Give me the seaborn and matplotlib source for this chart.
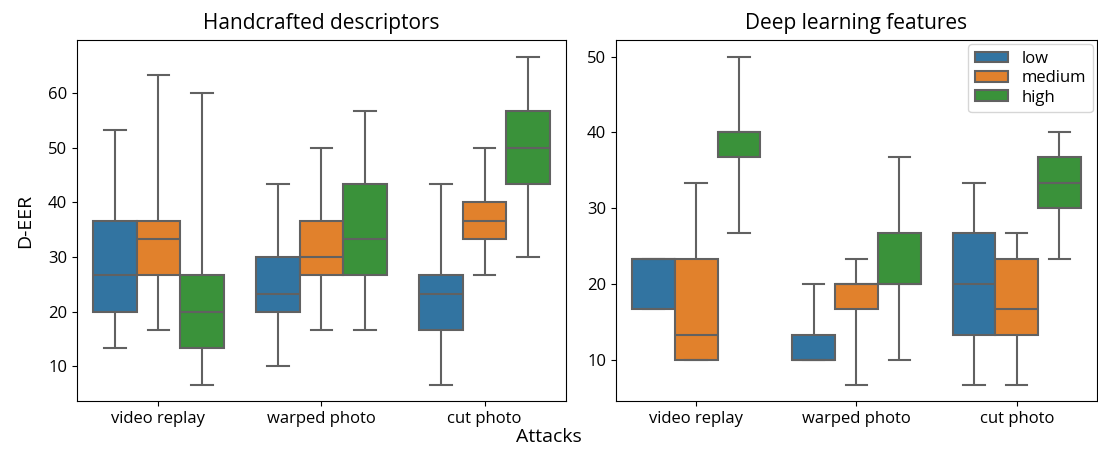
import pandas as pd
import matplotlib.pyplot as plt
import seaborn as sns

# Categories
attacks = ["video replay", "warped photo", "cut photo"]
levels = ["low", "medium", "high"]

# Five values per box (min, q1, median, q3, max), D-EER in %
# Handcrafted descriptors
hand_low = [[13.3, 20.0, 26.7, 36.7, 53.3],
            [10.0, 20.0, 23.3, 30.0, 43.3],
            [6.7, 16.7, 23.3, 26.7, 43.3]]
hand_medium = [[16.7, 26.7, 33.3, 36.7, 63.3],
               [16.7, 26.7, 30.0, 36.7, 50.0],
               [26.7, 33.3, 36.7, 40.0, 50.0]]
hand_high = [[6.7, 13.3, 20.0, 26.7, 60.0],
             [16.7, 26.7, 33.3, 43.3, 56.7],
             [30.0, 43.3, 50.0, 56.7, 66.7]]

# Deep learning features
deep_low = [[16.7, 16.7, 23.3, 23.3, 23.3],
            [10.0, 10.0, 10.0, 13.3, 20.0],
            [6.7, 13.3, 20.0, 26.7, 33.3]]
deep_medium = [[10.0, 10.0, 13.3, 23.3, 33.3],
               [6.7, 16.7, 20.0, 20.0, 23.3],
               [6.7, 13.3, 16.7, 23.3, 26.7]]
deep_high = [[26.7, 36.7, 40.0, 40.0, 50.0],
             [10.0, 20.0, 20.0, 26.7, 36.7],
             [23.3, 30.0, 33.3, 36.7, 40.0]]


def to_frame(low, medium, high):
    rows = []
    for level, values in zip(levels, [low, medium, high]):
        for attack, vals in zip(attacks, values):
            for v in vals:
                rows.append({"Attacks": attack, "level": level, "D-EER": v})
    return pd.DataFrame(rows)


df_hand = to_frame(hand_low, hand_medium, hand_high)
df_deep = to_frame(deep_low, deep_medium, deep_high)

plt.rcParams["font.family"] = ["Open Sans", "DejaVu Sans"]

fig = plt.figure(figsize=(10.98, 4.51), dpi=100)
ax1 = fig.add_axes([0.0701, 0.111, 0.4454, 0.800])
ax2 = fig.add_axes([0.561, 0.111, 0.438, 0.800])

for ax, df, title in [(ax1, df_hand, "Handcrafted descriptors"),
                      (ax2, df_deep, "Deep learning features")]:
    sns.boxplot(data=df, x="Attacks", y="D-EER", hue="level", order=attacks,
                hue_order=levels, palette="tab10", whis=(0, 100),
                linecolor="0.38", linewidth=1.5, ax=ax)
    ax.set_title(title, fontsize=15, pad=8)
    ax.set_xlabel("")
    ax.tick_params(labelsize=12)

ax1.set_ylabel("D-EER", fontsize=14, labelpad=10)
ax2.set_ylabel("")
ax1.get_legend().remove()
ax2.legend(loc="upper right", fontsize=12, title=None, labelspacing=0.2,
           handleheight=0.6, borderaxespad=0.25)

fig.text(0.5, 0.02, "Attacks", ha="center", fontsize=14)

plt.savefig("out.png", dpi=100)
